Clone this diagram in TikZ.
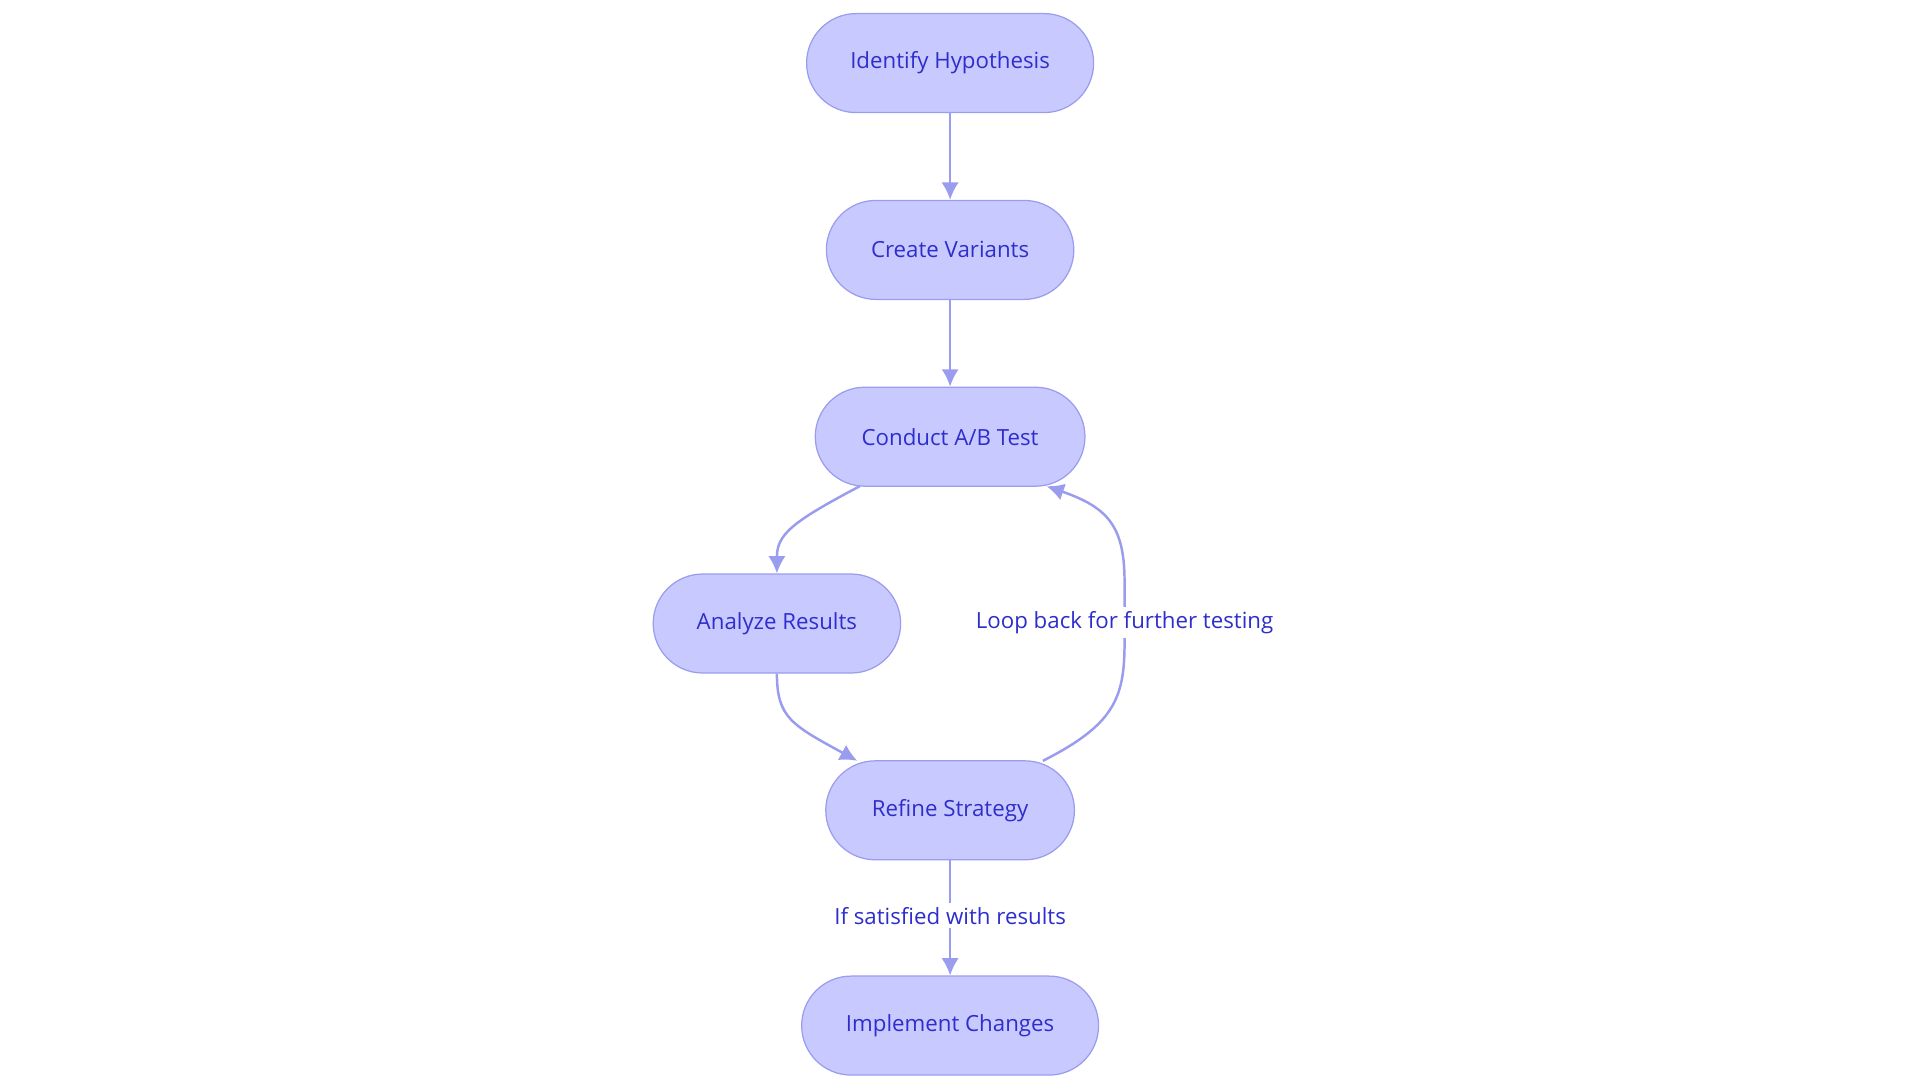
\documentclass[tikz,border=0pt]{standalone}
\usepackage{fontspec}
\setmainfont{Open Sans}
\usetikzlibrary{arrows.meta}
\definecolor{nfill}{HTML}{C8CAFF}
\definecolor{nline}{HTML}{9A9CEE}
\definecolor{ntext}{HTML}{2E2ECC}
\begin{document}
\begin{tikzpicture}[x=1pt,y=-1pt,
  box/.style={draw=nline,fill=nfill,rounded corners=40pt,minimum height=80pt,text=ntext,font=\fontsize{18}{22}\selectfont,line width=1pt},
  lbl/.style={text=ntext,font=\fontsize{18}{22}\selectfont},
  arr/.style={draw=nline,line width=2pt,-{Latex[length=14pt,width=14pt]}}]
\useasboundingbox (0,0) rectangle (1552,876);
\node[box,minimum width=232pt] (a) at (768,51) {Identify Hypothesis};
\node[box,minimum width=200pt] (b) at (768,202) {Create Variants};
\node[box,minimum width=218pt] (c) at (768,353) {Conduct A/B Test};
\node[box,minimum width=200pt] (d) at (628,504) {Analyze Results};
\node[box,minimum width=201pt] (e) at (768,655) {Refine Strategy};
\node[box,minimum width=240pt] (f) at (768,829) {Implement Changes};
\draw[arr] (a) -- (b);
\draw[arr] (b) -- (c);
\draw[arr] (695,393) .. controls (640,422) and (628,432) .. (d.north);
\draw[arr] (d.south) .. controls (628,580) and (640,586) .. (693,615);
\coordinate (e1) at (843,615);
\draw[arr] (e1) .. controls (900,586) and (909,565) .. (909,520) -- (909,470) .. controls (909,425) and (895,410) .. (846,393);
\node[lbl,fill=white] (l1) at (909,503) {Loop back for further testing};
\draw[arr] (e) -- (f) node[lbl,fill=white,pos=0.48] (l2) {If satisfied with results};
\end{tikzpicture}
\end{document}
